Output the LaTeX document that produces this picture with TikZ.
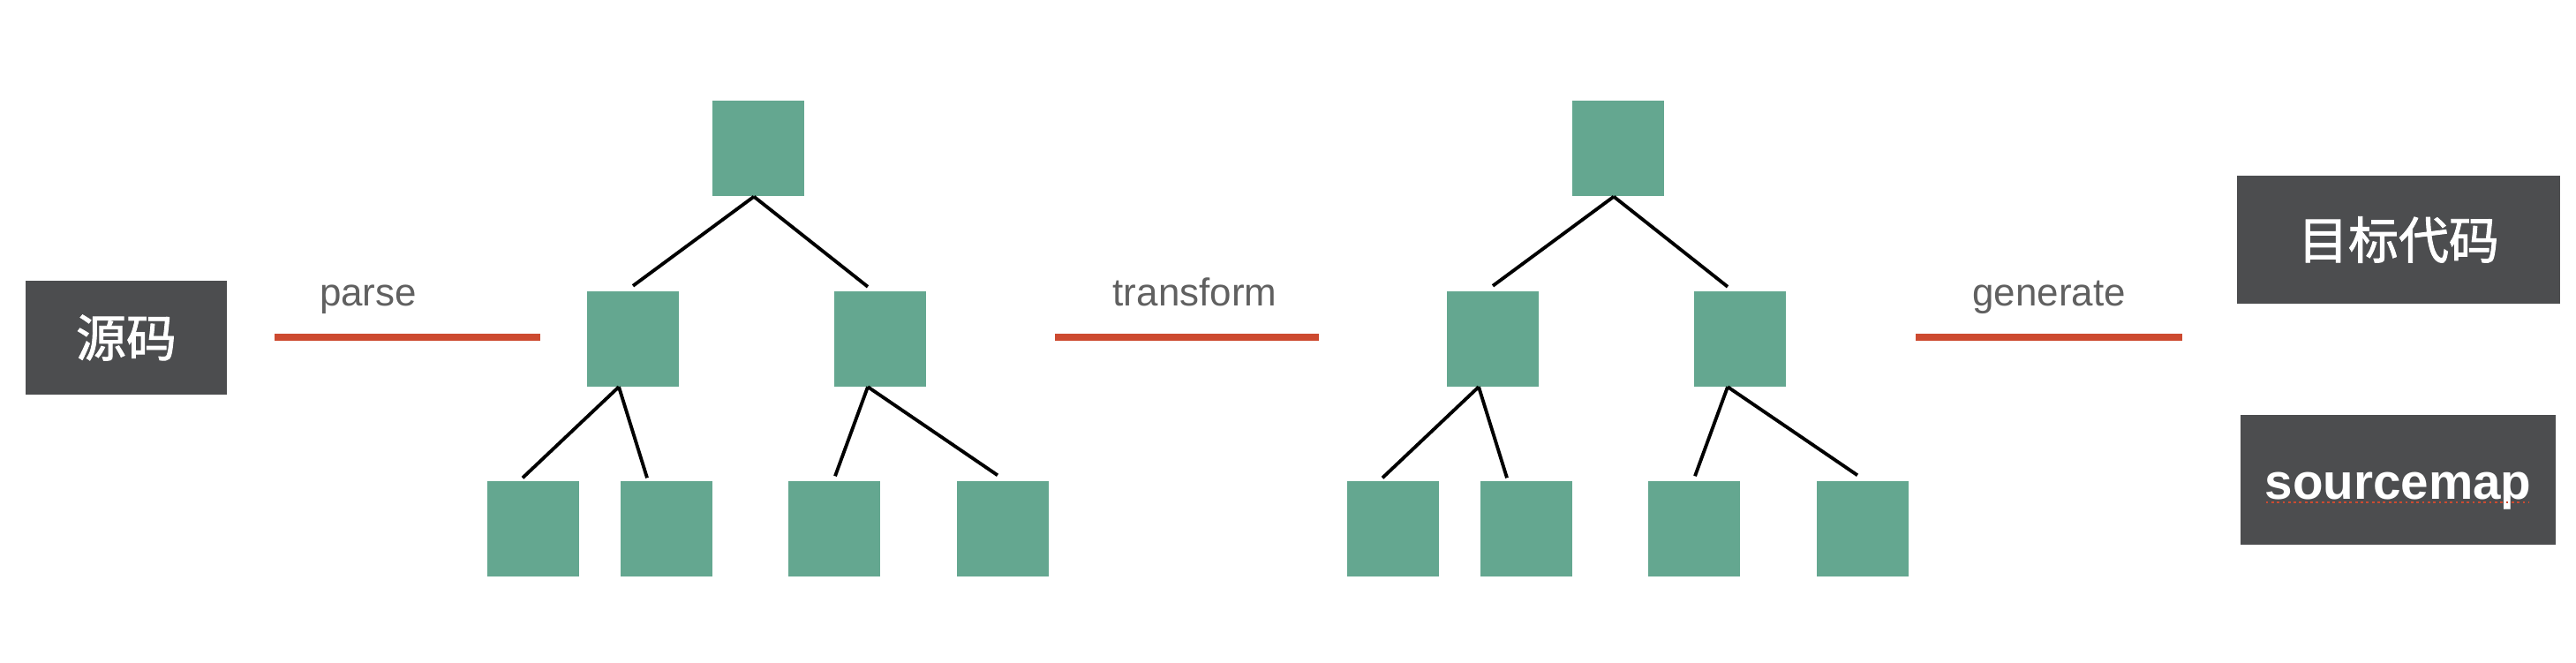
\documentclass[tikz,border=0pt]{standalone}
\usepackage{fontspec}
\setmainfont{Liberation Sans}
\newfontfamily\cjk{Noto Sans CJK SC}[FakeBold=1.6]
\definecolor{boxgray}{RGB}{76,77,79}
\definecolor{treegreen}{RGB}{100,167,144}
\definecolor{opgray}{RGB}{96,96,96}
\definecolor{crayonred}{RGB}{205,74,48}
\tikzset{
  darkbox/.style={fill=boxgray, text=white, inner sep=0pt, font=\cjk\fontsize{16.2}{18}\selectfont},
  greensq/.style={fill=treegreen, inner sep=0pt, minimum width=1.04cm, minimum height=1.08cm},
  branch/.style={line width=1.1pt},
  oplabel/.style={text=opgray, anchor=base, font=\fontsize{12.5}{14}\selectfont},
  crayon/.style={crayonred, line width=2.2pt}
}
\begin{document}
\begin{tikzpicture}
\useasboundingbox (0,0) rectangle (29.18,7.5);
% input and outputs
\node[darkbox, minimum width=2.28cm, minimum height=1.29cm] (src) at (1.43,3.675) {源码};
\node[darkbox, minimum width=3.66cm, minimum height=1.45cm] (target) at (27.17,4.785) {目标代码};
\node[darkbox, font=\bfseries\fontsize{16.1}{18}\selectfont, minimum width=3.57cm, minimum height=1.47cm, text height=0.43cm, text depth=0cm] (smap) at (27.165,2.065) {sourcemap};
\draw[crayonred, densely dotted, line width=0.8pt] ([xshift=-1.5cm,yshift=-0.04cm]smap.base) -- ([xshift=1.48cm,yshift=-0.04cm]smap.base);
% step labels
\node[oplabel] (parse) at (4.17,4.03) {parse};
\node[oplabel] (transform) at (13.535,4.03) {transform};
\node[oplabel] (generate) at (23.21,4.03) {generate};
\coordinate (pa) at (3.11,3.68);
\coordinate (pb) at (6.12,3.68);
\coordinate (ta) at (11.95,3.68);
\coordinate (tb) at (14.94,3.68);
\coordinate (ga) at (21.70,3.68);
\coordinate (gb) at (24.72,3.68);
\draw[crayon] (pa)--(pb);
\draw[crayon] (ta)--(tb);
\draw[crayon] (ga)--(gb);
% first tree
\node[greensq] (aroot) at (8.59,5.82) {};
\node[greensq] (aleft) at (7.17,3.665) {};
\node[greensq] (aright) at (9.97,3.665) {};
\node[greensq] (aleaf1) at (6.04,1.51) {};
\node[greensq] (aleaf2) at (7.55,1.51) {};
\node[greensq] (aleaf3) at (9.45,1.51) {};
\node[greensq] (aleaf4) at (11.36,1.51) {};
\draw[branch] ([xshift=-0.05cm]aroot.south) -- ([yshift=0.05cm]aleft.north);
\draw[branch] ([xshift=-0.05cm]aroot.south) -- ([xshift=-0.14cm,yshift=0.04cm]aright.north);
\draw[branch] ([xshift=-0.16cm]aleft.south) -- ([xshift=-0.12cm,yshift=0.03cm]aleaf1.north);
\draw[branch] ([xshift=-0.16cm]aleft.south) -- ([xshift=-0.22cm,yshift=0.03cm]aleaf2.north);
\draw[branch] ([xshift=-0.14cm]aright.south) -- ([xshift=0.01cm,yshift=0.05cm]aleaf3.north);
\draw[branch] ([xshift=-0.14cm]aright.south) -- ([xshift=-0.06cm,yshift=0.06cm]aleaf4.north);
% second tree
\node[greensq] (broot) at (18.33,5.82) {};
\node[greensq] (bleft) at (16.91,3.665) {};
\node[greensq] (bright) at (19.71,3.665) {};
\node[greensq] (bleaf1) at (15.78,1.51) {};
\node[greensq] (bleaf2) at (17.29,1.51) {};
\node[greensq] (bleaf3) at (19.19,1.51) {};
\node[greensq] (bleaf4) at (21.10,1.51) {};
\draw[branch] ([xshift=-0.05cm]broot.south) -- ([yshift=0.05cm]bleft.north);
\draw[branch] ([xshift=-0.05cm]broot.south) -- ([xshift=-0.14cm,yshift=0.04cm]bright.north);
\draw[branch] ([xshift=-0.16cm]bleft.south) -- ([xshift=-0.12cm,yshift=0.03cm]bleaf1.north);
\draw[branch] ([xshift=-0.16cm]bleft.south) -- ([xshift=-0.22cm,yshift=0.03cm]bleaf2.north);
\draw[branch] ([xshift=-0.14cm]bright.south) -- ([xshift=0.01cm,yshift=0.05cm]bleaf3.north);
\draw[branch] ([xshift=-0.14cm]bright.south) -- ([xshift=-0.06cm,yshift=0.06cm]bleaf4.north);
\end{tikzpicture}
\end{document}
